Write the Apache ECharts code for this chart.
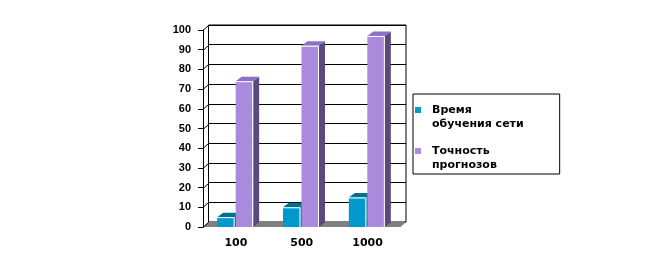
<!DOCTYPE html>
<html>
<head>
<meta charset="utf-8">
<script src="https://cdn.jsdelivr.net/npm/echarts@6/dist/echarts.min.js"></script>
<style>html,body{margin:0;padding:0;background:#fff;}#c{width:646px;height:266px;}</style>
</head>
<body>
<div id="c"></div>
<script>
const categories = ['100', '500', '1000'];
const seriesNames = ['Время\nобучения сети', 'Точность\nпрогнозов'];
const trainingTime = [5, 10, 15];
const accuracy = [74, 92, 97];
const yTicks = [0, 10, 20, 30, 40, 50, 60, 70, 80, 90, 100];

const DX = 5.5, DY = -5;      // wall depth
const BDX = 6, BDY = -4.5;    // bar depth
const FONT = 'Arial, "Liberation Sans", sans-serif';
const WIDE = '"DejaVu Sans", sans-serif';

function barRenderer(offsetFrac, colors) {
  return function (params, api) {
    const cat = api.value(0), val = api.value(1);
    const top = api.coord([cat, val]);
    const base = api.coord([cat, 0]);
    const band = api.size([1, 0])[0];
    const w = band * 0.266;
    const x0 = top[0] + band * offsetFrac;
    const x1 = x0 + w;
    const yt = top[1], yb = base[1];
    return {
      type: 'group',
      children: [
        { type: 'polygon', shape: { points: [[x1, yt], [x1 + BDX, yt + BDY], [x1 + BDX, yb + BDY], [x1, yb]] }, style: { fill: colors.side } },
        { type: 'polygon', shape: { points: [[x0, yt], [x1, yt], [x1 + BDX, yt + BDY], [x0 + BDX, yt + BDY]] }, style: { fill: colors.top } },
        { type: 'rect', shape: { x: x0, y: yt, width: w, height: yb - yt }, style: { fill: colors.front } },
        { type: 'polyline', shape: { points: [[x0, yt + 0.5], [x1 - 0.5, yt + 0.5], [x1 - 0.5, yb]] }, style: { stroke: '#ffffff', lineWidth: 1, fill: null } }
      ]
    };
  };
}

const iconPath = 'path://M0,0L0.01,0M12,28L11.99,28M0,4L6,4L6,10L0,10Z';

const option = {
  animation: false,
  backgroundColor: '#ffffff',
  textStyle: { fontFamily: FONT },
  grid: [
    { left: 203, right: 245.5, top: 30, bottom: 39, show: false },
    { left: 208.5, right: 240, top: 25, bottom: 44, show: true, borderColor: '#000', borderWidth: 1, backgroundColor: '#fff', z: 0 }
  ],
  xAxis: [
    { type: 'category', gridIndex: 0, data: categories, axisLine: { show: false }, axisTick: { show: false },
      axisLabel: { color: '#000', fontWeight: 'bold', fontSize: 11, margin: 11, fontFamily: WIDE } },
    { type: 'category', gridIndex: 1, data: categories, show: false }
  ],
  yAxis: [
    { type: 'value', gridIndex: 0, min: 0, max: 100, interval: 10,
      axisLine: { show: true, lineStyle: { color: '#000', width: 1 } },
      axisTick: { show: true, length: 5, lineStyle: { color: '#000' } },
      splitLine: { show: false },
      axisLabel: { color: '#000', fontWeight: 'bold', fontSize: 11, margin: 12, fontFamily: FONT } },
    { type: 'value', gridIndex: 1, min: 0, max: 100, interval: 10,
      axisLine: { show: false }, axisTick: { show: false }, axisLabel: { show: false },
      splitLine: { show: true, lineStyle: { color: '#000', width: 1 } } }
  ],
  legend: {
    orient: 'vertical', left: 413, top: 94,
    padding: [9, 36, 2, 2], itemGap: 13, itemWidth: 12, itemHeight: 28,
    borderColor: '#000', borderWidth: 1, backgroundColor: '#fff',
    itemStyle: { borderWidth: 0 },
    textStyle: { color: '#000', fontWeight: 'bold', fontSize: 11, lineHeight: 14, fontFamily: WIDE },
    data: [{ name: seriesNames[0], icon: iconPath }, { name: seriesNames[1], icon: iconPath }]
  },
  series: [
    {
      type: 'custom', name: 'floor', xAxisIndex: 0, yAxisIndex: 0, z: 1, silent: true,
      data: [[0, 0]],
      renderItem: function (params, api) {
        const cs = params.coordSys;
        const y0 = api.coord([0, 0])[1];
        const xl = cs.x, xr = cs.x + cs.width;
        return { type: 'polygon', shape: { points: [[xl, y0], [xr, y0], [xr + DX, y0 + DY], [xl + DX, y0 + DY]] }, style: { fill: '#808080' } };
      }
    },
    {
      type: 'custom', name: 'wall', xAxisIndex: 0, yAxisIndex: 0, z: 2, silent: true,
      data: yTicks.map(v => [0, v]),
      renderItem: function (params, api) {
        const cs = params.coordSys;
        const y = Math.round(api.coord([0, api.value(1)])[1]) + 0.5;
        return { type: 'line', shape: { x1: cs.x, y1: y, x2: cs.x + DX, y2: y + DY }, style: { stroke: '#000', lineWidth: 1 } };
      }
    },
    {
      type: 'custom', name: seriesNames[0], xAxisIndex: 0, yAxisIndex: 0, z: 3,
      itemStyle: { color: '#0099CC' },
      data: categories.map((c, i) => [i, trainingTime[i]]),
      encode: { x: 0, y: 1 },
      renderItem: barRenderer(-0.285, { front: '#0099CC', top: '#00708F', side: '#005573' })
    },
    {
      type: 'custom', name: seriesNames[1], xAxisIndex: 0, yAxisIndex: 0, z: 4,
      itemStyle: { color: '#A98ADD' },
      data: categories.map((c, i) => [i, accuracy[i]]),
      encode: { x: 0, y: 1 },
      renderItem: barRenderer(-0.004, { front: '#A98ADD', top: '#8B70C4', side: '#594A7B' })
    }
  ]
};

echarts.init(document.getElementById('c')).setOption(option);
</script>
</body>
</html>
